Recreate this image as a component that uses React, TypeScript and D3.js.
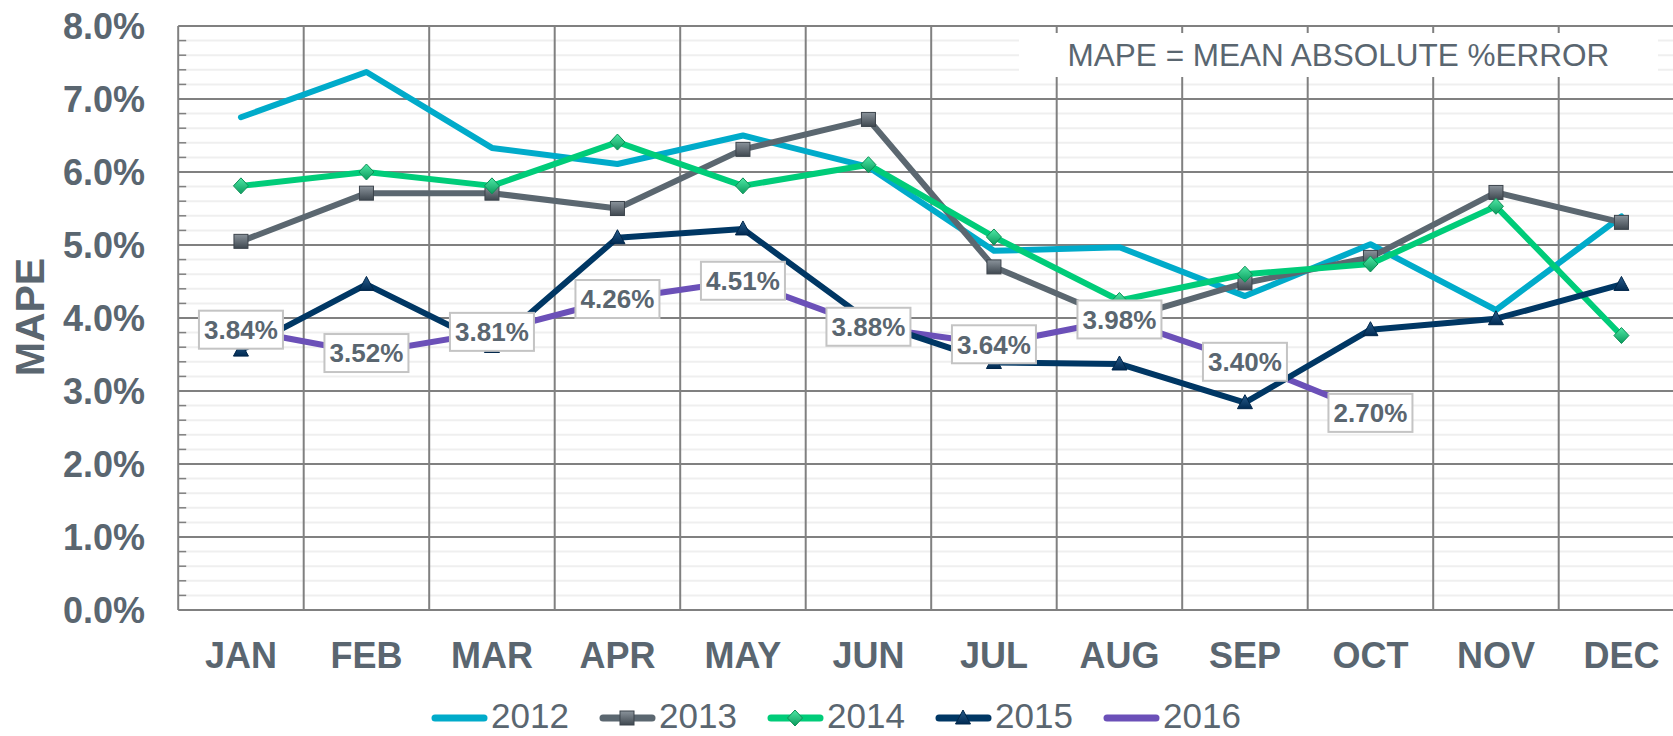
import React from 'react';
import * as d3 from 'd3';

const months = ['JAN', 'FEB', 'MAR', 'APR', 'MAY', 'JUN', 'JUL', 'AUG', 'SEP', 'OCT', 'NOV', 'DEC'];
const yTicks = [0, 1, 2, 3, 4, 5, 6, 7, 8];

const mape2012 = [6.75, 7.37, 6.33, 6.11, 6.5, 6.07, 4.92, 4.97, 4.3, 5.01, 4.11, 5.39];
const mape2013 = [5.05, 5.71, 5.71, 5.5, 6.31, 6.72, 4.7, 3.97, 4.48, 4.83, 5.72, 5.31];
const mape2014 = [5.81, 6.0, 5.81, 6.41, 5.81, 6.1, 5.11, 4.24, 4.6, 4.74, 5.53, 3.76];
const mape2015 = [3.56, 4.46, 3.61, 5.1, 5.22, 3.96, 3.39, 3.37, 2.84, 3.84, 3.99, 4.46];
const mape2016 = [3.84, 3.52, 3.81, 4.26, 4.51, 3.88, 3.64, 3.98, 3.4, 2.7];

const W = 1673;
const H = 736;
const FONT = '"Liberation Sans", Arial, sans-serif';
const TEXT = '#5a6670';
const GRID = '#808080';
const MINOR = '#efefef';

type Series = { name: string; values: number[]; color: string; marker: 'none' | 'square' | 'diamond' | 'triangle' };

const series: Series[] = [
  { name: '2012', values: mape2012, color: '#00abca', marker: 'none' },
  { name: '2013', values: mape2013, color: '#5b6770', marker: 'square' },
  { name: '2014', values: mape2014, color: '#00cc79', marker: 'diamond' },
  { name: '2016', values: mape2016, color: '#6b50b8', marker: 'none' },
  { name: '2015', values: mape2015, color: '#003764', marker: 'triangle' },
];
const legendOrder = ['2012', '2013', '2014', '2015', '2016'];

function Marker({ type, x, y }: { type: string; x: number; y: number }) {
  if (type === 'square') {
    return <rect x={x - 7} y={y - 7} width={14} height={14} fill="url(#gSq)" stroke="#3c444c" strokeWidth={1} />;
  }
  if (type === 'diamond') {
    return <path d={`M${x},${y - 8}L${x + 7.5},${y}L${x},${y + 8}L${x - 7.5},${y}Z`} fill="url(#gDi)" stroke="#0b8f55" strokeWidth={1} />;
  }
  if (type === 'triangle') {
    return <path d={`M${x},${y - 8}L${x + 7.5},${y + 6}L${x - 7.5},${y + 6}Z`} fill="url(#gTr)" stroke="#00264a" strokeWidth={1} />;
  }
  return null;
}

export default function App() {
  const x = d3.scaleBand<string>().domain(months).range([178.2, 1684.2]);
  const y = d3.scaleLinear().domain([0, 8]).range([610, 26]);
  const cx = (i: number) => (x(months[i]) as number) + x.bandwidth() / 2;

  const line = d3
    .line<number>()
    .x((_, i) => cx(i))
    .y((d) => y(d));

  const minorTicks = d3.range(0, 40).map((i) => i * 0.2).filter((v) => Math.abs(v - Math.round(v)) > 0.01);
  const left = x.range()[0];
  const right = x.range()[1];

  return (
    <svg width={W} height={H} style={{ position: 'absolute', left: 0, top: 0, background: '#fff' }} fontFamily={FONT}>
      <defs>
        <linearGradient id="gSq" x1="0" y1="0" x2="0" y2="1">
          <stop offset="0" stopColor="#8a939b" />
          <stop offset="1" stopColor="#3f4850" />
        </linearGradient>
        <linearGradient id="gDi" x1="0" y1="0" x2="0" y2="1">
          <stop offset="0" stopColor="#4fe8a6" />
          <stop offset="1" stopColor="#0a9a5c" />
        </linearGradient>
        <linearGradient id="gTr" x1="0" y1="0" x2="0" y2="1">
          <stop offset="0" stopColor="#2a5d8c" />
          <stop offset="1" stopColor="#002a52" />
        </linearGradient>
      </defs>

      {/* minor gridlines + inner ticks */}
      {minorTicks.map((t) => (
        <g key={'m' + t}>
          <line x1={left} x2={right} y1={y(t)} y2={y(t)} stroke={MINOR} strokeWidth={2} />
          <line x1={left} x2={left + 8} y1={y(t)} y2={y(t)} stroke={GRID} strokeWidth={1.5} />
        </g>
      ))}
      {/* major gridlines */}
      {yTicks.map((t) => (
        <line key={'g' + t} x1={left} x2={right} y1={y(t)} y2={y(t)} stroke={GRID} strokeWidth={2} />
      ))}
      {months.map((m) => (
        <line key={'v' + m} x1={(x(m) as number) + x.bandwidth()} x2={(x(m) as number) + x.bandwidth()} y1={y(8)} y2={y(0)} stroke={GRID} strokeWidth={2} />
      ))}
      <line x1={left} x2={left} y1={y(8)} y2={y(0)} stroke={GRID} strokeWidth={2} />

      {/* annotation */}
      <rect x={1019} y={33} width={639} height={44} fill="#fff" />
      <text x={1338.5} y={55} dy="0.35em" textAnchor="middle" fontSize={31.5} fill={TEXT}>
        MAPE = MEAN ABSOLUTE %ERROR
      </text>

      {/* y tick labels */}
      {yTicks.map((t) => (
        <text key={'yl' + t} x={145} y={y(t)} dy="0.36em" textAnchor="end" fontSize={36} fontWeight="bold" fill={TEXT}>
          {t.toFixed(1)}%
        </text>
      ))}
      {/* x labels */}
      {months.map((m, i) => (
        <text key={'xl' + m} x={cx(i)} y={668} textAnchor="middle" fontSize={36} fontWeight="bold" fill={TEXT}>
          {m}
        </text>
      ))}
      <text transform={`translate(44,317) rotate(-90)`} textAnchor="middle" fontSize={41} fontWeight="bold" fill={TEXT}>
        MAPE
      </text>

      {/* series */}
      {series.map((s) => (
        <g key={s.name}>
          <path d={line(s.values) as string} fill="none" stroke={s.color} strokeWidth={6} strokeLinejoin="round" strokeLinecap="round" />
          {s.values.map((v, i) => (
            <Marker key={i} type={s.marker} x={cx(i)} y={y(v)} />
          ))}
        </g>
      ))}

      {/* data labels for 2016 */}
      {mape2016.map((v, i) => (
        <g key={'dl' + i} transform={`translate(${cx(i)},${y(v)})`}>
          <rect x={-42} y={-19} width={84} height={38} fill="#fff" stroke="#c4c4c4" strokeWidth={2} />
          <text y={0} dy="0.36em" textAnchor="middle" fontSize={26} fontWeight="bold" fill={TEXT}>
            {v.toFixed(2)}%
          </text>
        </g>
      ))}

      {/* legend */}
      {legendOrder.map((name, i) => {
        const s = series.find((d) => d.name === name) as Series;
        const lx = 432 + i * 168;
        return (
          <g key={'lg' + name}>
            <line x1={lx + 3} x2={lx + 52} y1={718} y2={718} stroke={s.color} strokeWidth={7} strokeLinecap="round" />
            <Marker type={s.marker} x={lx + 27} y={718} />
            <text x={lx + 59} y={716} dy="0.35em" fontSize={35} fill={TEXT}>
              {name}
            </text>
          </g>
        );
      })}
    </svg>
  );
}
